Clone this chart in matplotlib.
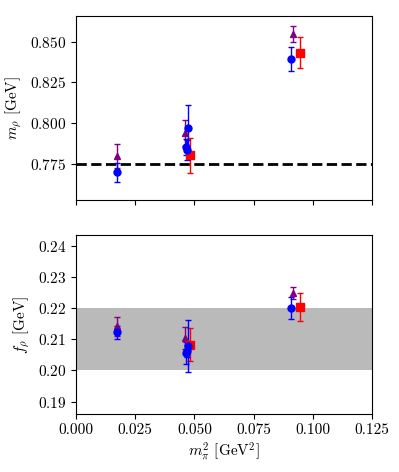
import numpy as np
import matplotlib
matplotlib.use('Agg')
import matplotlib.pyplot as plt

plt.rcParams['font.family'] = 'serif'
plt.rcParams['font.serif'] = ['cmr10']
plt.rcParams['mathtext.fontset'] = 'cm'
plt.rcParams['axes.formatter.use_mathtext'] = True
plt.rcParams['font.size'] = 11

# m_pi^2 [GeV^2], m_rho [GeV], f_rho [GeV] pour chaque série
x_blue = [0.0175, 0.0466, 0.0468, 0.0475, 0.0908]
m_blue = [0.7699, 0.7855, 0.7835, 0.7971, 0.8396]
dm_blue = [0.0058, 0.0050, 0.0060, 0.0140, 0.0073]
f_blue = [0.2122, 0.2055, 0.2062, 0.2078, 0.2200]
df_blue = [0.0020, 0.0035, 0.0020, 0.0084, 0.0036]

x_purple = [0.0175, 0.0462, 0.0915]
m_purple = [0.7800, 0.7943, 0.8547]
dm_purple = [0.0075, 0.0080, 0.0050]
f_purple = [0.2142, 0.2103, 0.2249]
df_purple = [0.0030, 0.0035, 0.0019]

x_red = [0.0480, 0.0946]
m_red = [0.7803, 0.8433]
dm_red = [0.0105, 0.0095]
f_red = [0.2083, 0.2204]
df_red = [0.0052, 0.0046]

m_rho_phys = 0.775
f_band = (0.20, 0.22)

fig = plt.figure(figsize=(3.99, 4.72), dpi=100)
ax1 = fig.add_axes([0.1905, 0.5763, 0.7418, 0.3898])
ax2 = fig.add_axes([0.1905, 0.1229, 0.7418, 0.3792])

ekw = dict(ls='none', capsize=2.5, elinewidth=1, capthick=1)

# Panneau du haut : m_rho
ax1.axhline(m_rho_phys, color='k', ls='--', lw=2, zorder=1)
ax1.errorbar(x_purple, m_purple, yerr=dm_purple, fmt='^', color='purple', ms=5, **ekw)
ax1.errorbar(x_red, m_red, yerr=dm_red, fmt='s', color='red', ms=6, **ekw)
ax1.errorbar(x_blue, m_blue, yerr=dm_blue, fmt='o', color='blue', ms=5, **ekw)
ax1.set_ylabel(r'$m_\rho$ [GeV]')
ax1.set_xlim(0, 0.125)
ax1.set_ylim(0.753, 0.8657)
ax1.set_yticks([0.775, 0.800, 0.825, 0.850])
ax1.set_xticks(np.arange(0, 0.126, 0.025))
ax1.set_xticklabels([])

# Panneau du bas : f_rho
ax2.axhspan(f_band[0], f_band[1], color='#bababa', lw=0, zorder=0)
ax2.errorbar(x_purple, f_purple, yerr=df_purple, fmt='^', color='purple', ms=5, **ekw)
ax2.errorbar(x_red, f_red, yerr=df_red, fmt='s', color='red', ms=6, **ekw)
ax2.errorbar(x_blue, f_blue, yerr=df_blue, fmt='o', color='blue', ms=5, **ekw)
ax2.set_ylabel(r'$f_\rho$ [GeV]')
ax2.set_xlabel(r'$m_\pi^2$ [GeV$^2$]', labelpad=2)
ax2.set_xlim(0, 0.125)
ax2.set_ylim(0.186, 0.2435)
ax2.set_yticks([0.19, 0.20, 0.21, 0.22, 0.23, 0.24])
ax2.set_xticks(np.arange(0, 0.126, 0.025))
ax2.set_xticklabels(['0.000', '0.025', '0.050', '0.075', '0.100', '0.125'])

plt.savefig('out.png', dpi=100)
plt.close()
